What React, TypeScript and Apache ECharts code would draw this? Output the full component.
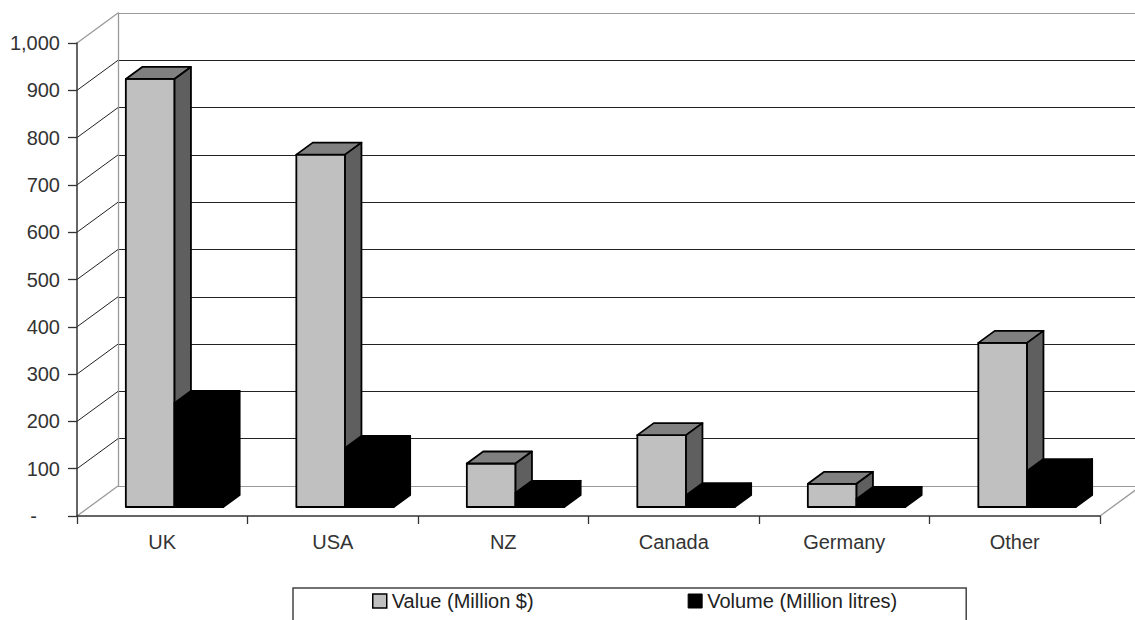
import React, { useEffect, useRef } from "react";
import * as echarts from "echarts";

const CATEGORIES = ["UK", "USA", "NZ", "Canada", "Germany", "Other"];
const VALUE_MILLION_USD = [905, 745, 92, 152, 49, 347];
const VOLUME_MILLION_LITRES = [220, 125, 30, 25, 17, 76];
const Y_TICKS = [0, 100, 200, 300, 400, 500, 600, 700, 800, 900, 1000];
const SERIES_NAMES = ["Value (Million $)", "Volume (Million litres)"];

const FONT = "'Liberation Sans', Arial, sans-serif";
const DX = 41;
const DY = -30;

function makeBarRender(side: number, front: string, top: string, right: string) {
  return (params: any, api: any) => {
    const i = api.value(0);
    const v = api.value(1);
    const c = api.coord([i, v]);
    const b = api.coord([i, 0]);
    const band = api.size([1, 0])[0];
    const bw = band / 3.5;
    const sx = DX * 0.3;
    const sy = DY * 0.3;
    const dx = DX * 0.4;
    const dy = DY * 0.4;
    const xL = c[0] - bw + side * bw + sx;
    const xR = xL + bw;
    const yT = c[1] + sy;
    const yB = b[1] + sy;
    const stroke = { stroke: "#000", lineWidth: 1.8, lineJoin: "round" };
    return {
      type: "group",
      children: [
        {
          type: "polygon",
          shape: { points: [[xL, yT], [xR, yT], [xR, yB], [xL, yB]] },
          style: { fill: front, ...stroke },
        },
        {
          type: "polygon",
          shape: { points: [[xL, yT], [xR, yT], [xR + dx, yT + dy], [xL + dx, yT + dy]] },
          style: { fill: top, ...stroke },
        },
        {
          type: "polygon",
          shape: { points: [[xR, yT], [xR + dx, yT + dy], [xR + dx, yB + dy], [xR, yB]] },
          style: { fill: right, ...stroke },
        },
      ],
    };
  };
}

export default function App() {
  const ref = useRef<HTMLDivElement>(null);

  useEffect(() => {
    if (!ref.current) return;
    const chart = echarts.init(ref.current, null, { renderer: "svg" });

    const wallRender = (params: any, api: any) => {
      const v = api.value(1);
      const cs = params.coordSys;
      const p = api.coord([0, v]);
      const y = p[1];
      const x0 = cs.x;
      const edge = v === Y_TICKS[0] || v === Y_TICKS[Y_TICKS.length - 1];
      const children: any[] = [
        {
          type: "line",
          shape: { x1: x0, y1: y, x2: x0 + DX, y2: y + DY },
          style: { stroke: edge ? "#9a9a9a" : "#222", lineWidth: edge ? 1.3 : 1 },
        },
      ];
      if (v === Y_TICKS[0]) {
        children.push({
          type: "line",
          shape: { x1: cs.x + cs.width, y1: y, x2: cs.x + cs.width + DX, y2: y + DY },
          style: { stroke: "#9a9a9a", lineWidth: 1.3 },
        });
      }
      return { type: "group", children };
    };

    const splitColors = Y_TICKS.map((v, k) =>
      k === 0 || k === Y_TICKS.length - 1 ? "#9a9a9a" : "#222"
    );

    const option: any = {
      animation: false,
      backgroundColor: "#fff",
      grid: [
        { left: 77, top: 43, width: 1023, height: 473 },
        { left: 77 + DX, top: 43 + DY, width: 1023, height: 473 },
      ],
      xAxis: [
        {
          type: "category",
          gridIndex: 0,
          data: CATEGORIES,
          axisLine: { show: true, lineStyle: { color: "#333", width: 1.5 } },
          axisTick: { show: true, length: 8, lineStyle: { color: "#333", width: 1.3 } },
          axisLabel: { fontSize: 20, fontFamily: FONT, color: "#333", margin: 16 },
          splitLine: { show: false },
          z: 5,
        },
        {
          type: "category",
          gridIndex: 1,
          data: CATEGORIES,
          show: false,
        },
      ],
      yAxis: [
        {
          type: "value",
          gridIndex: 0,
          min: 0,
          max: 1000,
          interval: 100,
          axisLine: { show: true, lineStyle: { color: "#333", width: 1.5 } },
          axisTick: { show: true, length: 9, lineStyle: { color: "#333", width: 1.3 } },
          axisLabel: {
            fontSize: 20,
            fontFamily: FONT,
            color: "#333",
            margin: 17,
            formatter: (v: number) =>
              v === 0 ? "{d|-}" : v.toLocaleString("en-US"),
            rich: {
              d: { fontSize: 20, fontFamily: FONT, color: "#333", padding: [0, 23, 0, 0] },
            },
          },
          splitLine: { show: false },
          z: 5,
        },
        {
          type: "value",
          gridIndex: 1,
          min: 0,
          max: 1000,
          interval: 100,
          axisLine: { show: true, lineStyle: { color: "#9a9a9a", width: 1.3 } },
          axisTick: { show: false },
          axisLabel: { show: false },
          splitLine: { show: true, lineStyle: { color: splitColors, width: 1 } },
        },
      ],
      legend: {
        left: 293,
        top: 588,
        orient: "horizontal",
        itemWidth: 14,
        itemHeight: 14,
        itemGap: 154,
        padding: [3, 69, 40, 79],
        borderColor: "#444",
        borderWidth: 1.5,
        textStyle: { fontSize: 20, fontFamily: FONT, color: "#222" },
        data: [
          {
            name: SERIES_NAMES[0],
            icon: "rect",
            itemStyle: { color: "#c0c0c0", borderColor: "#000", borderWidth: 1.5 },
          },
          {
            name: SERIES_NAMES[1],
            icon: "rect",
            itemStyle: { color: "#000", borderColor: "#000", borderWidth: 1 },
          },
        ],
      },
      series: [
        {
          type: "custom",
          name: "walls",
          xAxisIndex: 0,
          yAxisIndex: 0,
          data: Y_TICKS.map((v) => [0, v]),
          renderItem: wallRender,
          silent: true,
          z: 1,
        },
        {
          type: "custom",
          name: SERIES_NAMES[0],
          xAxisIndex: 0,
          yAxisIndex: 0,
          itemStyle: { color: "#c0c0c0" },
          data: VALUE_MILLION_USD.map((v, i) => [i, v]),
          renderItem: makeBarRender(0, "#c0c0c0", "#808080", "#5f5f5f"),
          z: 3,
        },
        {
          type: "custom",
          name: SERIES_NAMES[1],
          xAxisIndex: 0,
          yAxisIndex: 0,
          itemStyle: { color: "#000" },
          data: VOLUME_MILLION_LITRES.map((v, i) => [i, v]),
          renderItem: makeBarRender(1, "#000", "#000", "#000"),
          z: 4,
        },
      ],
    };

    chart.setOption(option);
    return () => chart.dispose();
  }, []);

  return (
    <div
      ref={ref}
      style={{ position: "fixed", left: 0, top: 0, width: 1135, height: 620 }}
    />
  );
}
